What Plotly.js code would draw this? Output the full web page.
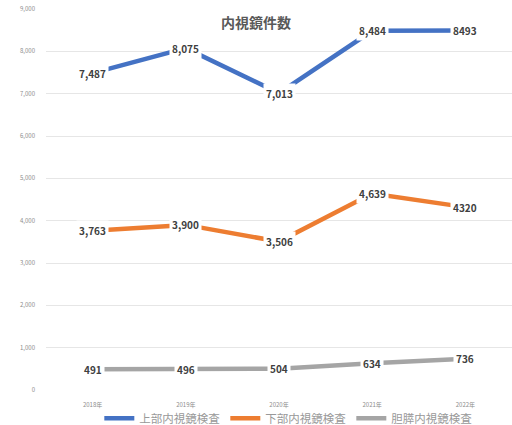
<!DOCTYPE html>
<html><head><meta charset="utf-8">
<script src="https://cdn.plot.ly/plotly-3.0.1.min.js"></script>
<style>html,body{margin:0;padding:0;background:#fff}#c{width:512px;height:425px}</style>
</head><body><div id="c"></div>
<script>
const years = ['2018年','2019年','2020年','2021年','2022年'];
const upper = [7487, 8075, 7013, 8484, 8493];
const lower = [3763, 3900, 3506, 4639, 4320];
const biliary = [491, 496, 504, 634, 736];
const labelsUpper = ['7,487','8,075','7,013','8,484','8493'];
const labelsLower = ['3,763','3,900','3,506','4,639','4320'];
const labelsBiliary = ['491','496','504','634','736'];
const seriesNames = ['上部内視鏡検査','下部内視鏡検査','胆膵内視鏡検査'];
const colors = ['#4472C4','#ED7D31','#A5A5A5'];
const tickVals = [0,1000,2000,3000,4000,5000,6000,7000,8000,9000];
const tickText = ['0','1,000','2,000','3,000','4,000','5,000','6,000','7,000','8,000','9,000'];

const font = '"Noto Sans CJK JP", "Noto Sans", sans-serif';
const series = [upper, lower, biliary];
const labels = [labelsUpper, labelsLower, labelsBiliary];
const traces = series.map((s,i)=>({
  x: years, y: s, type:'scatter', mode:'lines', name: seriesNames[i],
  line:{color:colors[i], width:4.5}
}));
const annotations = [];
series.forEach((s,i)=>{
  s.forEach((v,j)=>{
    annotations.push({x:years[j], y:v, xref:'x', yref:'y', text:labels[i][j], showarrow:false,
      bgcolor:'#ffffff', borderpad:2, font:{family:font, size:10, color:'#404040', weight:'bold'}});
  });
});
const layout = {
  width:512, height:425,
  margin:{l:46, r:0, t:9, b:35, autoexpand:false},
  paper_bgcolor:'#fff', plot_bgcolor:'#fff',
  title:{text:'内視鏡件数', x:0.5, xanchor:'center', y:0.945, yanchor:'middle', font:{family:font, size:14, color:'#595959', weight:'bold'}},
  xaxis:{type:'category', range:[-0.5,4.5], showgrid:false, zeroline:false, showline:false, ticks:'',
    tickfont:{family:font, size:6, color:'#8c8c8c'}, ticklabelstandoff:10, fixedrange:true, automargin:false},
  yaxis:{range:[0,9000], tickvals:tickVals, ticktext:tickText, showgrid:true, gridcolor:'#e6e6e6', gridwidth:1,
    zeroline:false, showline:false, ticks:'', tickfont:{family:font, size:6, color:'#8c8c8c'}, ticklabelstandoff:10, automargin:false},
  showlegend:true,
  legend:{orientation:'h', x:0.52, xanchor:'center', yref:'container', y:0.016, yanchor:'middle', bgcolor:'rgba(0,0,0,0)', font:{family:font, size:11.5, color:'#999999'}, itemwidth:30, tracegroupgap:0},
  annotations: annotations
};
Plotly.newPlot('c', traces, layout, {displayModeBar:false, staticPlot:true});
</script></body></html>
